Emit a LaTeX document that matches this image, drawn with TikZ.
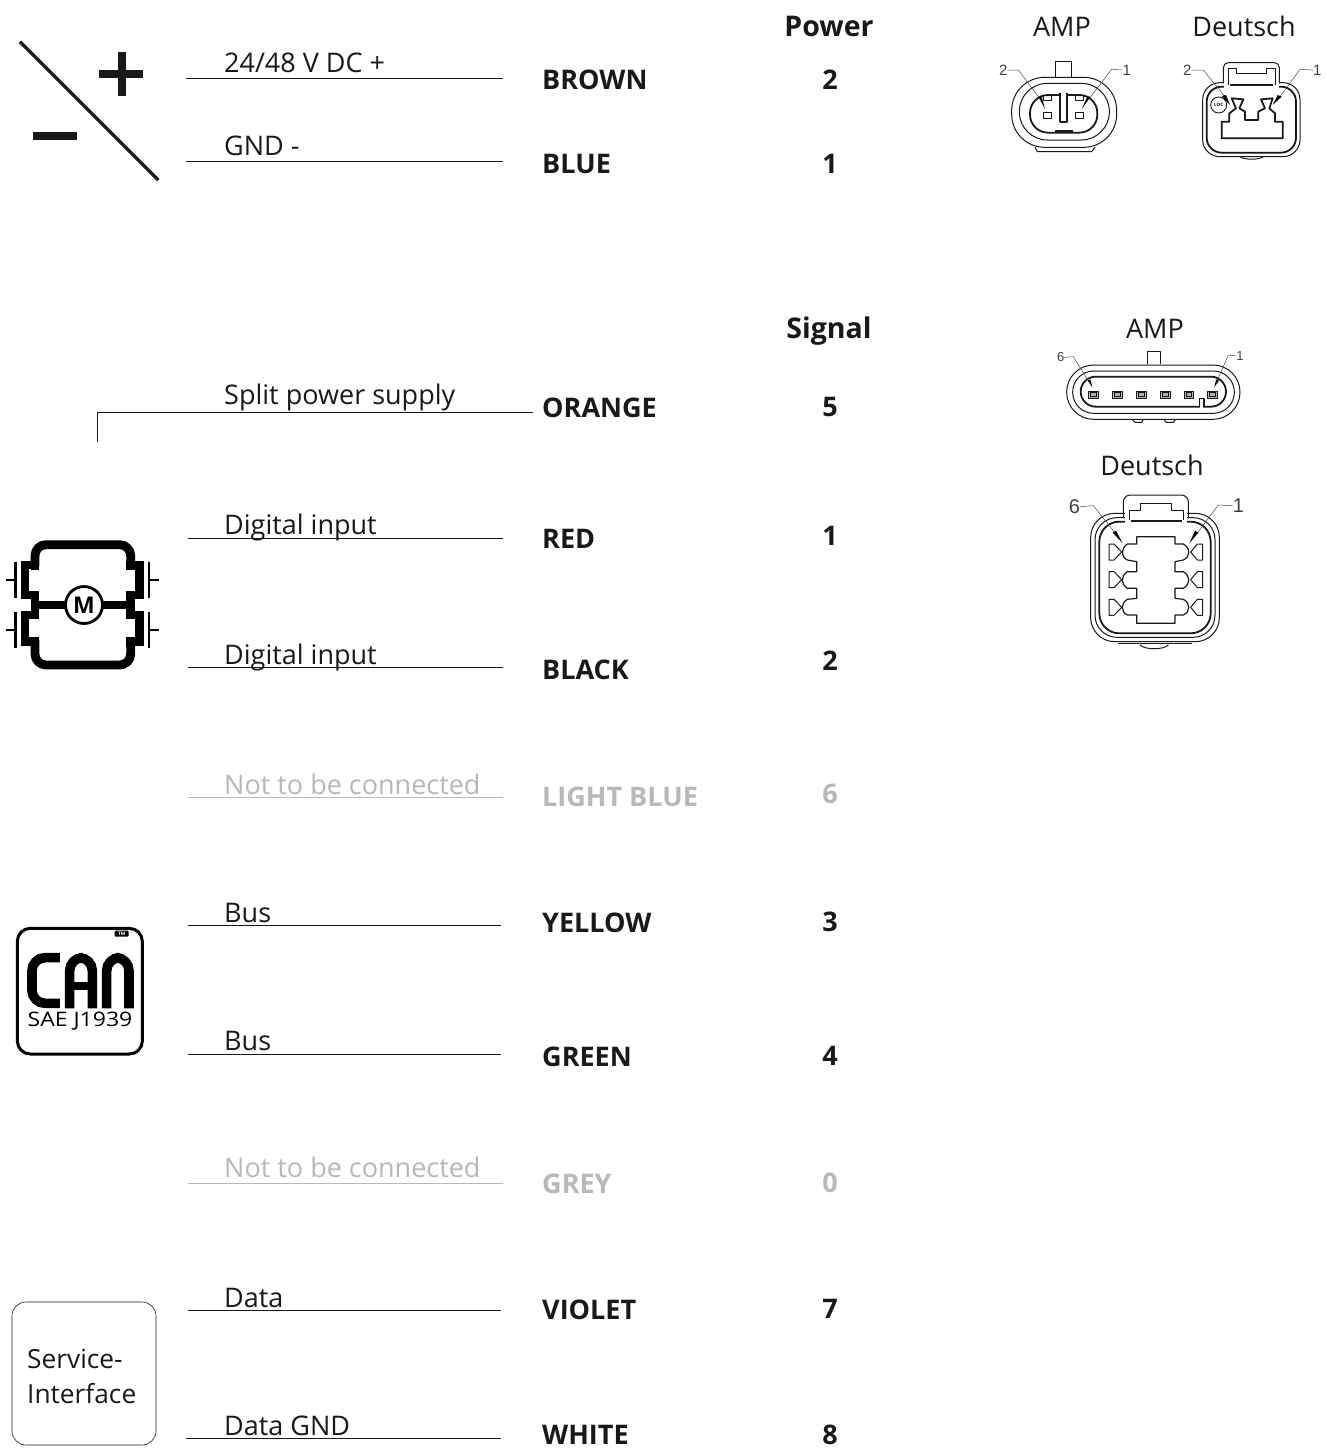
\documentclass[tikz,border=0pt]{standalone}
\usepackage{fontspec}
\setmainfont{Open Sans}
\newfontfamily\pinfont{Liberation Sans}
\definecolor{grayout}{gray}{0.72}
\definecolor{ink}{gray}{0.1}
\tikzset{
  lab/.style={anchor=base west,inner sep=0pt,font=\fontsize{27}{30}\selectfont,text=ink},
  wirename/.style={anchor=base west,inner sep=0pt,font=\fontsize{27}{30}\selectfont\bfseries,text=ink},
  pinnum/.style={anchor=base,inner sep=0pt,font=\fontsize{27}{30}\selectfont\bfseries,text=ink},
  head/.style={anchor=base,inner sep=0pt,font=\fontsize{28.5}{30}\selectfont\bfseries,text=ink},
  plain/.style={anchor=base,inner sep=0pt,font=\fontsize{27}{30}\selectfont,text=ink},
  wire/.style={line width=0.8pt,draw=ink},
  rowon/.style={},
  rowonline/.style={},
  rowoff/.style={text=grayout},
  rowoffline/.style={draw=grayout},
  cad/.style={line width=1pt,draw=ink,line join=round},
  cadthin/.style={line width=0.5pt,draw=black!70},
  cadthick/.style={line width=1.8pt,draw=ink,line join=round},
  pintext/.style={inner sep=0pt,text=black!75,font=\pinfont\fontsize{15}{15}\selectfont},
  zoomA/.style={shift={(980,40)},x=0.33333pt,y=-0.33333pt},
  zoomB/.style={shift={(1040,340)},x=0.33333pt,y=-0.33333pt},
  zoomM/.style={shift={(0,530)},x=0.33333pt,y=-0.33333pt},
  zoomC/.style={shift={(5,920)},x=0.33333pt,y=-0.33333pt},
  zoomP/.style={shift={(0,20)},x=0.33333pt,y=-0.33333pt},
  motorline/.style={line width=8.8pt,draw=black,line join=miter},
}
\newcommand{\rowline}[8]{%
  \coordinate (#1a) at (#2,#4);
  \coordinate (#1b) at (#3,#4);
  \node[lab,#7] (#1t) at (224,#6) {#5};
  \draw[wire,#7line] (#1a) -- (#1b);
  \node[wirename,#7] (#1c) at (542,#8) {\wn};
  \node[pinnum,#7] (#1n) at (830,\py) {\pn};
}
\begin{document}
\begin{tikzpicture}[x=1pt,y=-1pt]
\useasboundingbox (0,0) rectangle (1327,1448);
\fill[white] (0,0) rectangle (1327,1448);

% headers
\node[head] (hpower) at (829,36) {Power};
\node[head] (hsignal) at (829,338) {Signal};
\node[plain] (hamp) at (1062,36) {AMP};
\node[plain] (hdeu) at (1244,36) {Deutsch};
\node[plain] (samp) at (1155,338) {AMP};
\node[plain] (sdeu) at (1152,475) {Deutsch};

% rows
\def\wn{BROWN}\def\py{89}\def\pn{2}\rowline{r1}{186}{503}{78}{24/48 V DC +}{72}{rowon}{89}
\def\wn{BLUE}\def\py{173}\def\pn{1}\rowline{r2}{186}{503}{161}{GND -}{155}{rowon}{173}
\node[lab] (r3t) at (224,404) {Split power supply};
\coordinate (r3a) at (97,442); \coordinate (r3b) at (533,412);
\draw[wire] (r3a) |- (r3b);
\node[wirename] (r3c) at (542,417) {ORANGE};
\node[pinnum] (r3n) at (830,416) {5};
\def\wn{RED}\def\py{545}\def\pn{1}\rowline{r4}{188}{503}{538}{Digital input}{534}{rowon}{548}
\def\wn{BLACK}\def\py{670}\def\pn{2}\rowline{r5}{188}{503}{667}{Digital input}{664}{rowon}{679}
\def\wn{LIGHT BLUE}\def\py{803}\def\pn{6}\rowline{r6}{188}{503}{797}{Not to be connected}{794}{rowoff}{806}
\def\wn{YELLOW}\def\py{931}\def\pn{3}\rowline{r7}{188}{501}{925}{Bus}{922}{rowon}{932}
\def\wn{GREEN}\def\py{1065}\def\pn{4}\rowline{r8}{188}{501}{1054}{Bus}{1050}{rowon}{1066}
\def\wn{GREY}\def\py{1192}\def\pn{0}\rowline{r9}{188}{503}{1183}{Not to be connected}{1177}{rowoff}{1193}
\def\wn{VIOLET}\def\py{1318}\def\pn{7}\rowline{r10}{188}{501}{1310}{Data}{1307}{rowon}{1319}
\def\wn{WHITE}\def\py{1444}\def\pn{8}\rowline{r11}{186}{501}{1438}{Data GND}{1435}{rowon}{1444}

% plus / minus symbol
\begin{scope}[zoomP]
\draw[line width=3.4pt,draw=ink] (60,65) -- (475,480);
\draw[line width=8pt,draw=ink] (298,163) -- (430,163);
\draw[line width=8pt,draw=ink] (365,97) -- (365,228);
\draw[line width=8pt,draw=ink] (100,347) -- (232,347);
\end{scope}

% motor symbol
\begin{scope}[zoomM]
\draw[motorline,rounded corners=11pt] (105,110) -- (105,44) -- (392,44) -- (392,110);
\draw[motorline,rounded corners=11pt] (105,330) -- (105,405) -- (392,405) -- (392,330);
\draw[motorline] (105,120) -- (105,105) -- (75,105) -- (75,195) -- (105,195) -- (105,255) -- (75,255) -- (75,335) -- (105,335) -- (105,350);
\draw[motorline] (392,120) -- (392,105) -- (418,105) -- (418,195) -- (392,195) -- (392,255) -- (418,255) -- (418,335) -- (392,335) -- (392,350);
\draw[motorline] (105,225) -- (392,225);
\foreach \cx/\sx in {47/18,447/477}{
  \draw[line width=2.8pt,draw=black] (\cx,95) -- (\cx,205);
  \draw[line width=2.8pt,draw=black] (\cx,245) -- (\cx,355);
  \draw[line width=2.4pt,draw=black] (\sx,150) -- (\cx,150);
  \draw[line width=2.4pt,draw=black] (\sx,300) -- (\cx,300);
}
\node[circle,draw=black,line width=2.8pt,fill=white,minimum size=37pt,inner sep=0pt,
  font=\fontsize{23}{23}\selectfont\bfseries] (motor) at (252,225) {M};
\end{scope}

% CAN logo
\begin{scope}[zoomC]
\draw[line width=3pt,draw=black,rounded corners=13pt] (37,25) rectangle (412,402);
\draw[line width=9.6pt,draw=black,rounded corners=13pt] (165,113) -- (81,113) -- (81,250) -- (165,250);
\draw[line width=9.6pt,draw=black,rounded corners=13pt] (194,265) -- (194,113) -- (262,113) -- (262,265);
\draw[line width=8pt,draw=black] (194,197) -- (262,197);
\draw[line width=9.6pt,draw=black,rounded corners=13pt] (305,265) -- (305,113) -- (372,113) -- (372,265);
\node[inner sep=0pt,anchor=base,xscale=1.15,font=\fontsize{20}{20}\selectfont,text=black] (saetext) at (225,320) {SAE J1939};
\node[rounded corners=1pt,fill=black,text=white,inner sep=0.6pt,font=\fontsize{4.8}{5}\selectfont\bfseries,minimum width=14pt,minimum height=6pt] (tm) at (350,41) {TM};
\end{scope}

% service interface
\node[draw=ink,line width=0.6pt,rounded corners=14pt,minimum width=144pt,minimum height=143pt,inner sep=0pt] (svc) at (84,1373.5) {};
\node[lab,font=\fontsize{26.3}{30}\selectfont] (svc1) at (27,1368) {Service-};
\node[lab,font=\fontsize{26.3}{30}\selectfont] (svc2) at (27,1403) {Interface};

% 2-pin AMP
\begin{scope}[zoomA]
\draw[cad,rounded corners=33pt] (95,112) rectangle (410,322);
\draw[cad,rounded corners=28pt] (118,130) rectangle (388,300);
\draw[cadthick,rounded corners=18pt] (150,165) -- (150,278) -- (352,278) -- (352,165) -- cycle;
\draw[cad] (225,110) -- (225,65) -- (275,65) -- (275,110);
\draw[cad] (165,322) -- (172,335) -- (335,335) -- (345,322);
\draw[cadthick,fill=white] (240,160) -- (240,245) -- (260,245) -- (260,160);
\draw[cadthick] (225,274) -- (280,274);
\foreach \a/\b in {190/215,285/310}{
  \draw[cad] (\a,218) rectangle (\b,235);
  \draw[cad] (\a,167) rectangle (\b,180);
}
\node[pintext] (a2n) at (70,90) {2};
\node[pintext] (a1n) at (440,90) {1};
\coordinate (a2k) at (115,90); \coordinate (a2e) at (175,170);
\coordinate (a1k) at (395,88); \coordinate (a1e) at (332,170);
\draw[cadthin] (a2n.east) -- (a2k) -- (a2e);
\draw[cadthin] (a1n.west) -- (a1k) -- (a1e);
\fill[black] (175,170) -- (185,170) -- (195,207) -- cycle;
\fill[black] (332,170) -- (322,170) -- (305,207) -- cycle;
\end{scope}

% 2-pin Deutsch
\begin{scope}[zoomA]
\draw[cad,rounded corners=17pt] (668,128) -- (668,350) -- (960,350) -- (960,128) -- cycle;
\draw[cadthick,rounded corners=15pt] (680,140) -- (680,338) -- (948,338) -- (948,140) -- cycle;
\fill[white] (732,120) rectangle (896,146);
\draw[cad,rounded corners=5pt] (730,130) -- (730,68) -- (898,68) -- (898,130);
\draw[cad] (745,135) -- (745,85) -- (770,85) -- (770,100) -- (860,100) -- (860,85) -- (885,85) -- (885,135);
\draw[cadthick] (750,135) -- (880,135);
\draw[cadthick,line join=round] (755,175) -- (790,178) -- (778,205) -- (795,215) -- (795,240) -- (835,240) -- (835,215) -- (855,205) -- (843,178) -- (878,175) -- (868,205) -- (885,220) -- (885,245) -- (908,245) -- (908,295) -- (725,295) -- (725,245) -- (748,245) -- (748,220) -- (768,205) -- cycle;
\node[circle,draw=ink,line width=0.9pt,fill=white,minimum size=16pt,inner sep=0pt,font=\fontsize{4.5}{5}\selectfont\bfseries] (loc) at (716,195) {LOC};
\draw[cad] (780,350) .. controls (790,360) and (840,360) .. (850,350);
\node[pintext] (d2n) at (622,90) {2};
\node[pintext] (d1n) at (1012,90) {1};
\coordinate (d2k) at (670,90); \coordinate (d2e) at (735,170);
\coordinate (d1k) at (960,88); \coordinate (d1e) at (900,170);
\draw[cadthin] (d2n.east) -- (d2k) -- (d2e);
\draw[cadthin] (d1n.west) -- (d1k) -- (d1e);
\fill[black] (725,168) -- (738,165) -- (750,195) -- cycle;
\fill[black] (905,170) -- (893,165) -- (878,195) -- cycle;
\end{scope}

% 6-pin AMP
\begin{scope}[zoomB]
\draw[cad,rounded corners=27pt] (80,75) rectangle (600,238);
\draw[cad,rounded corners=21pt] (98,93) rectangle (583,220);
\draw[cadthick,rounded corners=15pt] (122,110) -- (122,200) -- (558,200) -- (558,110) -- cycle;
\fill[white] (480,195) rectangle (490,205);
\draw[cad,line width=1.4pt] (478,200) -- (478,175) -- (492,175) -- (492,200);
\draw[cad] (322,72) -- (322,35) -- (360,35) -- (360,72);
\draw[cad] (275,238) -- (285,247) -- (305,247) -- (310,238);
\draw[cad] (372,238) -- (378,247) -- (400,247) -- (407,238);
\foreach \c in {145,218,289,361,432,503}{
  \draw[cad,fill=black!30] (\c,153) rectangle ++(29,22);
  \draw[line width=0.5pt,draw=ink] (\c+6,158) rectangle ++(17,12);
}
\node[pintext,font=\pinfont\fontsize{13}{13}\selectfont] (s6n) at (62,52) {6};
\node[pintext,font=\pinfont\fontsize{13}{13}\selectfont] (s1n) at (600,48) {1};
\coordinate (s6k) at (100,50); \coordinate (s6e) at (150,130);
\coordinate (s1k) at (565,45); \coordinate (s1e) at (530,125);
\draw[cadthin] (s6n.east) -- (s6k) -- (s6e);
\draw[cadthin] (s1n.west) -- (s1k) -- (s1e);
\fill[black] (143,122) -- (151,118) -- (157,142) -- cycle;
\fill[black] (537,122) -- (529,118) -- (522,142) -- cycle;
\end{scope}

% 6-pin Deutsch
\begin{scope}[zoomB]
\draw[cad,rounded corners=24pt] (152,520) -- (152,905) -- (538,905) -- (538,520) -- cycle;
\draw[cad,rounded corners=22pt] (165,533) -- (165,892) -- (525,892) -- (525,533) -- cycle;
\draw[cadthick,rounded corners=20pt] (178,545) -- (178,880) -- (512,880) -- (512,545) -- cycle;
\fill[white] (255,515) rectangle (440,552);
\draw[cad,rounded corners=7pt] (250,535) -- (250,465) -- (445,465) -- (445,535);
\draw[cad] (268,540) -- (268,510) -- (300,510) -- (300,490) -- (395,490) -- (395,510) -- (430,510) -- (430,540);
\draw[cadthick] (272,542) -- (426,542);
\draw[cad,line width=1.2pt] (290,590) -- (405,590) -- (405,612) -- (430,612) .. controls (452,625) and (452,650) .. (430,660) -- (405,665) -- (405,695) -- (430,695) .. controls (452,708) and (452,732) .. (430,745) -- (405,745) -- (405,775) -- (430,778) .. controls (452,790) and (452,815) .. (430,825) -- (405,825) -- (405,850) -- (290,850) -- (290,825) -- (262,825) .. controls (242,815) and (242,790) .. (262,778) -- (290,775) -- (290,745) -- (262,745) .. controls (242,732) and (242,708) .. (262,695) -- (290,695) -- (290,665) -- (262,660) .. controls (242,650) and (242,625) .. (262,612) -- (290,612) -- cycle;
\foreach \y in {612,695,778}{
  \draw[cad] (207,\y) -- (222,\y) -- (245,\y+24) -- (222,\y+48) -- (207,\y+48) -- cycle;
  \draw[cad] (488,\y) -- (472,\y) -- (452,\y+24) -- (472,\y+48) -- (488,\y+48) -- cycle;
}
\draw[cad] (300,915) .. controls (315,930) and (370,930) .. (385,915);
\draw[cad] (235,910) -- (455,910);
\node[pintext,font=\pinfont\fontsize{20}{20}\selectfont] (e6n) at (103,500) {6};
\node[pintext,font=\pinfont\fontsize{20}{20}\selectfont] (e1n) at (595,497) {1};
\coordinate (e6k) at (160,497); \coordinate (e6e) at (225,578);
\coordinate (e1k) at (535,495); \coordinate (e1e) at (470,582);
\draw[cadthin] (e6n.east) -- (e6k) -- (e6e);
\draw[cadthin] (e1n.west) -- (e1k) -- (e1e);
\fill[black] (218,578) -- (228,572) -- (248,610) -- cycle;
\fill[black] (475,578) -- (465,572) -- (448,610) -- cycle;
\end{scope}
\end{tikzpicture}
\end{document}
